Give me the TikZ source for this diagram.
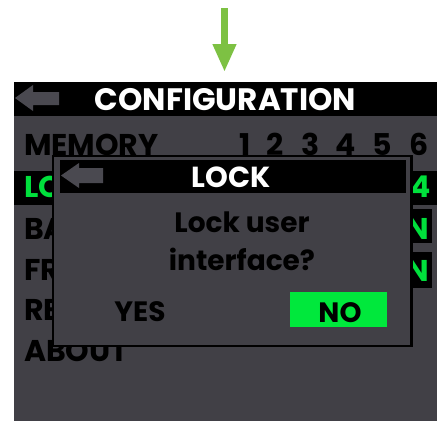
\documentclass[tikz,border=0pt]{standalone}
\usepackage{fontspec}
\setmainfont{Poppins}
\usetikzlibrary{arrows.meta}
\definecolor{scr}{HTML}{414046}
\definecolor{backgray}{HTML}{4A4950}
\definecolor{menugreen}{HTML}{00E03C}
\definecolor{nogreen}{HTML}{00E83C}
\definecolor{arrowgreen}{HTML}{7DC143}
\newcommand{\fs}[1]{\bfseries\fontsize{#1}{#1}\selectfont}
\tikzset{
  lbl/.style={inner sep=0pt, outer sep=0pt, font=\fs{30}},
  menutxt/.style={lbl, anchor=base west, text=black},
  backarrow/.style={fill=backgray},
}
\begin{document}
\begin{tikzpicture}[x=1pt,y=-1pt]
\useasboundingbox (0,0) rectangle (437,421);
\fill[white] (0,0) rectangle (437,421);
% green pointer arrow
\coordinate (atop) at (224.5,8);
\coordinate (atip) at (224.5,72);
\draw[arrowgreen, line width=7pt, -{Triangle[length=28pt,width=22pt]}] (atop) -- (atip);
% screen
\fill[scr] (13.5,82) rectangle (437,421);
\fill[black] (13.5,82) rectangle (437,115.5);
\fill[backarrow] (15,98) -- (33,85) -- (33,92) -- (59,92) -- (59,105) -- (33,105) -- (33,111) -- cycle;
\node[lbl, font=\fs{31}, text=white, anchor=base] (title) at (225.5,110) {CONFIGURATION};
% menu
\node[menutxt] (memory) at (24,155) {MEMORY};
\foreach \d/\x in {1/245,2/275,3/311,4/346,5/382,6/419}
  \node[lbl, anchor=base] (mem\d) at (\x,155) {\d};
\fill[black] (13.5,171) rectangle (437,205);
\node[menutxt, text=menugreen] (lock) at (24,197) {LO};
\node[lbl, anchor=base, text=menugreen] (lockval) at (420.5,197) {4};
\fill[black] (405,209) rectangle (432,243);
\fill[black] (405,252) rectangle (432,288);
\node[lbl, anchor=base east, text=menugreen] (baval) at (429,239) {N};
\node[lbl, anchor=base east, text=menugreen] (frval) at (429,281) {N};
\node[menutxt] (ba) at (24,239) {BA};
\node[menutxt] (fr) at (24,280) {FR};
\node[menutxt] (re) at (24,320) {RE};
\node[menutxt] (about) at (24,361) {ABOUT};
% dialog
\draw[black, line width=2.5pt, fill=scr] (53,156) rectangle (411.5,346);
\fill[black] (59.5,160) rectangle (405.5,193);
\fill[backarrow] (61,175.5) -- (79,163) -- (79,168) -- (103,168) -- (103,183) -- (79,183) -- (79,188) -- cycle;
\node[lbl, font=\fs{29}, text=white, anchor=base] (dtitle) at (231,187.5) {LOCK};
\node[lbl, font=\fs{28}, anchor=base] (q1) at (242,232) {Lock user};
\node[lbl, font=\fs{28}, anchor=base] (q2) at (242,270) {interface?};
\node[lbl, font=\fs{28}, anchor=base] (yes) at (140,321) {YES};
\fill[nogreen] (290,292) rectangle (387,327);
\node[lbl, font=\fs{28}, anchor=base] (no) at (340,322) {NO};
\end{tikzpicture}
\end{document}
